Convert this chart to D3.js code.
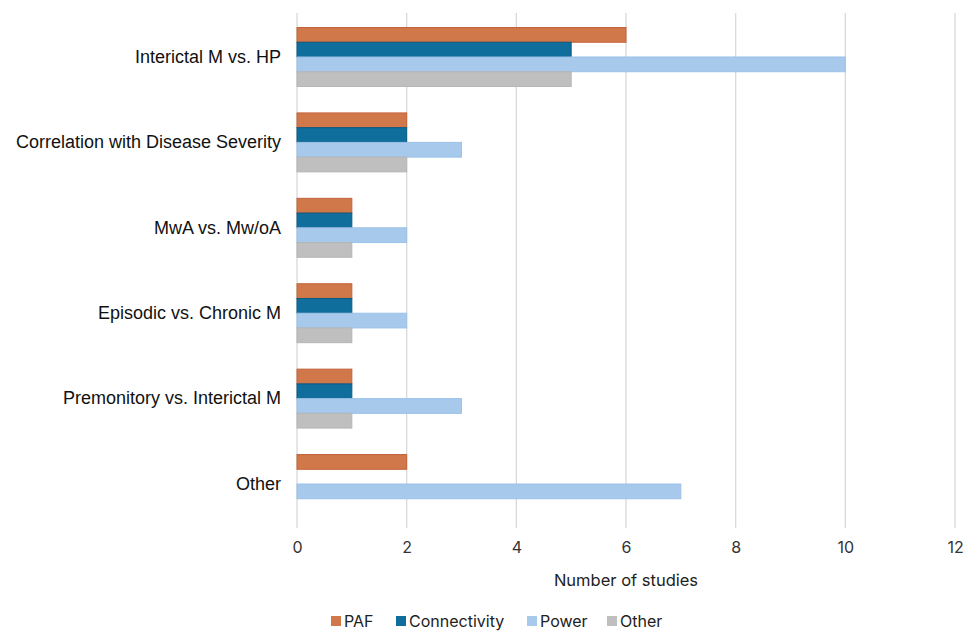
<html>
<head>
<meta charset="utf-8">
<script src="https://cdnjs.cloudflare.com/ajax/libs/d3/7.8.5/d3.min.js"></script>
<style>
  body { margin: 0; background: #fff; }
</style>
</head>
<body>
<div id="chart"></div>
<script>
// categories top to bottom
const categories = ["Interictal M vs. HP", "Correlation with Disease Severity", "MwA vs. Mw/oA",
  "Episodic vs. Chronic M", "Premonitory vs. Interictal M", "Other"];
const seriesNames = ["PAF", "Connectivity", "Power", "Other"];
const paf = [6, 2, 1, 1, 1, 2];
const connectivity = [5, 2, 1, 1, 1, 0];
const power = [10, 3, 2, 2, 3, 7];
const other = [5, 2, 1, 1, 1, 0];
const xTicks = [0, 2, 4, 6, 8, 10, 12];

const fills = ["#d0784a", "#0f6e9c", "#a6c9ec", "#bfbfbf"];
const strokes = ["#c4623a", "#0b5a82", "#9cc2e8", "#b5b5b5"];

const width = 964, height = 633;
const margin = {left: 297, right: 9, top: 13, bottom: 105};

const svg = d3.select("#chart").append("svg")
  .attr("width", width).attr("height", height);

const x = d3.scaleLinear().domain([0, 12]).range([margin.left, width - margin.right]);
const y = d3.scaleBand().domain(categories).range([margin.top, height - margin.bottom]).paddingInner(0.31).paddingOuter(0.17);
const ySub = d3.scaleBand().domain(seriesNames).range([0, y.bandwidth()]);

// gridlines
svg.append("g").selectAll("line").data(xTicks).enter().append("line")
  .attr("x1", d => x(d)).attr("x2", d => x(d))
  .attr("y1", margin.top).attr("y2", height - margin.bottom)
  .attr("stroke", "#d9d9d9").attr("stroke-width", 1.3);

const values = [paf, connectivity, power, other];
const rows = [];
categories.forEach((c, i) => {
  seriesNames.forEach((s, j) => {
    rows.push({cat: c, series: s, idx: j, v: values[j][i]});
  });
});

svg.append("g").selectAll("rect").data(rows.filter(d => d.v > 0)).enter().append("rect")
  .attr("x", x(0))
  .attr("y", d => y(d.cat) + ySub(d.series))
  .attr("width", d => x(d.v) - x(0))
  .attr("height", ySub.bandwidth())
  .attr("fill", d => fills[d.idx])
  .attr("stroke", d => strokes[d.idx])
  .attr("stroke-width", 1);

// x axis tick labels
const xAxis = d3.axisBottom(x).tickValues(xTicks).tickSize(0).tickPadding(0);
const gx = svg.append("g").attr("transform", `translate(0,${height - margin.bottom + 14})`).call(xAxis);
gx.select(".domain").remove();
gx.selectAll("text").attr("font-family", "Inter, 'Open Sans', sans-serif").attr("font-size", 16)
  .attr("fill", "#333");

svg.append("text")
  .attr("x", (x(0) + x(12)) / 2).attr("y", 586)
  .attr("text-anchor", "middle")
  .attr("font-family", "Inter, 'Open Sans', sans-serif").attr("font-size", 16.5).attr("fill", "#222")
  .text("Number of studies");

// y axis labels
const yAxis = d3.axisLeft(y).tickSize(0).tickPadding(16);
const gy = svg.append("g").attr("transform", `translate(${margin.left},0)`).call(yAxis);
gy.select(".domain").remove();
gy.selectAll("text").attr("font-family", "'Liberation Sans', Arial, sans-serif").attr("font-size", 18)
  .attr("fill", "#111");

// legend
const legendX = [331, 396, 527, 607];
const legend = svg.append("g").selectAll("g").data(seriesNames).enter().append("g")
  .attr("transform", (d, i) => `translate(${legendX[i]},621)`);
legend.append("rect").attr("x", 0).attr("y", -5).attr("width", 10).attr("height", 10)
  .attr("fill", (d, i) => fills[i]);
legend.append("text").attr("x", 13).attr("y", 0).attr("dy", "0.36em")
  .attr("font-family", "Inter, 'Open Sans', sans-serif").attr("font-size", 16).attr("fill", "#222")
  .text(d => d);
</script>
</body>
</html>
